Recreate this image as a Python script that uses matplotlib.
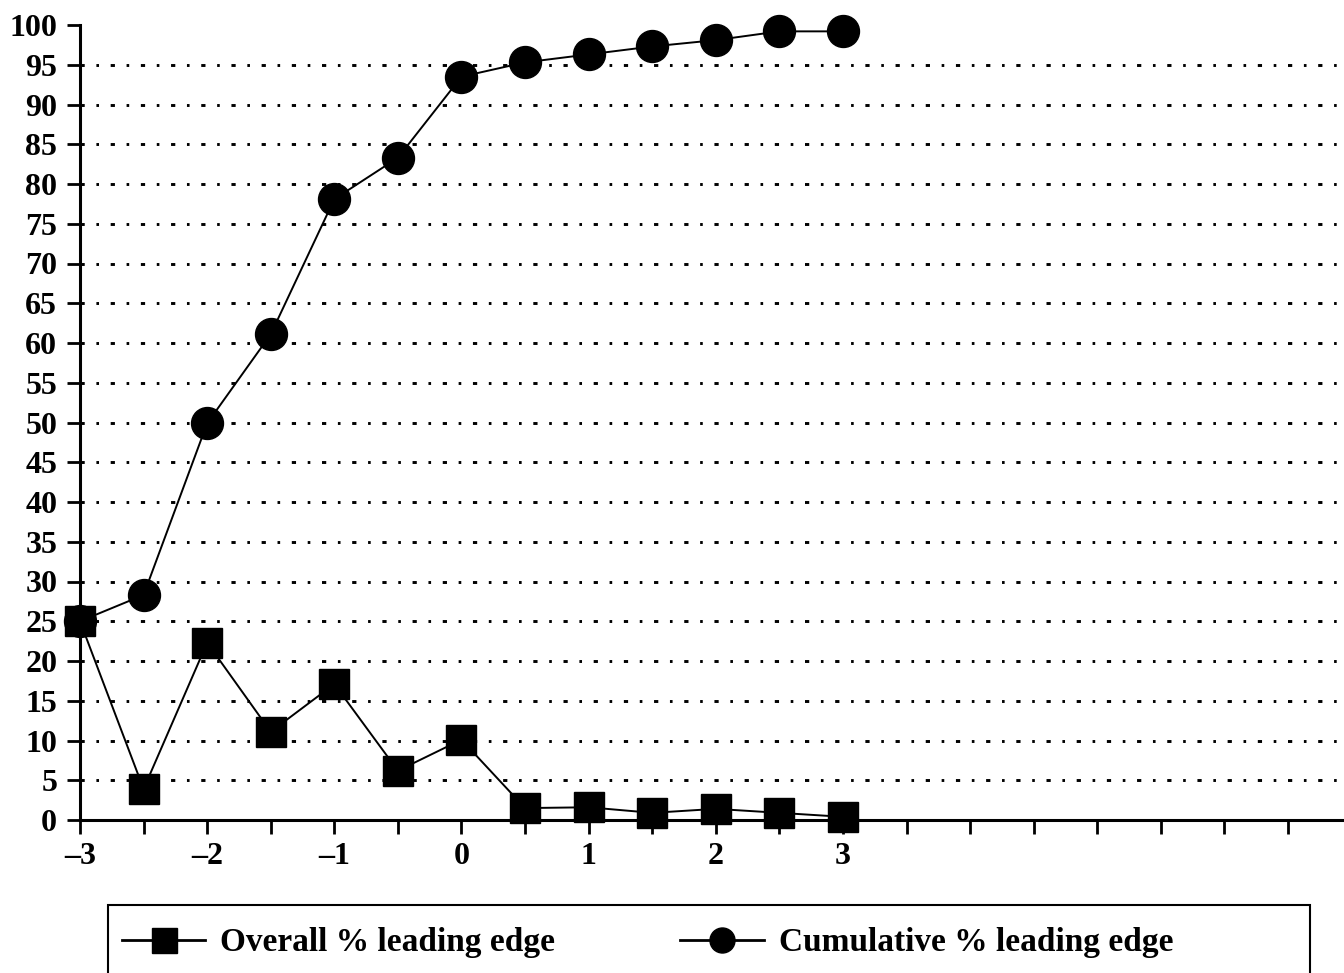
import numpy as np
import matplotlib
matplotlib.use('Agg')
import matplotlib.pyplot as plt
from matplotlib.lines import Line2D
from matplotlib.patches import Rectangle

# values
x_vals = [-3, -2.5, -2, -1.5, -1, -0.5, 0, 0.5, 1, 1.5, 2, 2.5, 3]
overall = [25.0, 3.9, 22.3, 11.1, 17.1, 6.2, 10.1, 1.5, 1.6, 0.9, 1.4, 0.9, 0.4]
cumulative = [25.0, 28.3, 49.9, 61.1, 78.1, 83.3, 93.5, 95.3, 96.3, 97.3, 98.1, 99.2, 99.2]
x_ticks = np.arange(-3, 7, 0.5)
x_labels = ['–3', '', '–2', '', '–1', '', '0', '', '1', '', '2', '', '3']
y_ticks = list(range(0, 101, 5))

plt.rcParams['font.family'] = ['Liberation Serif', 'DejaVu Serif']
plt.rcParams['font.weight'] = 'bold'

fig = plt.figure(figsize=(13.44, 9.73), dpi=100)
ax = fig.add_axes([80 / 1344, 1 - 820 / 973, 1 - 80 / 1344, (820 - 25) / 973])

# dash-dot style grid
for y in y_ticks[1:-1]:
    ax.axhline(y, color='black', lw=2.1, linestyle=(0, (1.45, 4.0, 0.9, 4.0)), zorder=1)

ax.plot(x_vals, cumulative, color='black', lw=1.4, marker='o', markersize=23, zorder=3,
        clip_on=False)
ax.plot(x_vals, overall, color='black', lw=1.4, marker='s', markersize=22, zorder=4,
        clip_on=False)

ax.set_xlim(-3, 6.94)
ax.set_ylim(0, 100)
ax.set_xticks(x_ticks)
ax.set_xticklabels(x_labels + [''] * (len(x_ticks) - len(x_labels)))
ax.set_yticks(y_ticks)
ax.set_yticklabels([str(v) for v in y_ticks])
for lbl in ax.get_xticklabels() + ax.get_yticklabels():
    lbl.set_fontsize(23)
    lbl.set_fontweight('bold')

ax.spines['top'].set_visible(False)
ax.spines['right'].set_visible(False)
ax.spines['left'].set_linewidth(2.2)
ax.spines['bottom'].set_linewidth(2.2)
ax.tick_params(axis='y', direction='out', length=9.4, width=2, pad=7)
ax.tick_params(axis='x', direction='out', length=10, width=2, pad=6)

# legend box runs off the bottom edge of the figure
fig.patches.append(Rectangle((108 / 1344, -0.1), 1202 / 1344, 0.1 + (973 - 905) / 973,
                             transform=fig.transFigure, fill=False, edgecolor='black', lw=1.5))
handles = [Line2D([], [], color='black', lw=2, marker='s', markersize=18),
           Line2D([], [], color='black', lw=2, marker='o', markersize=18)]
fig.legend(handles, ['Overall % leading edge', 'Cumulative % leading edge'],
           loc='center left', bbox_to_anchor=(122 / 1344, 1 - 943 / 973),
           ncol=2, frameon=False, borderpad=0, borderaxespad=0,
           handlelength=2.5, handletextpad=0.45, columnspacing=3.75,
           prop={'size': 24, 'weight': 'bold'})

fig.savefig('out.png', dpi=100)
